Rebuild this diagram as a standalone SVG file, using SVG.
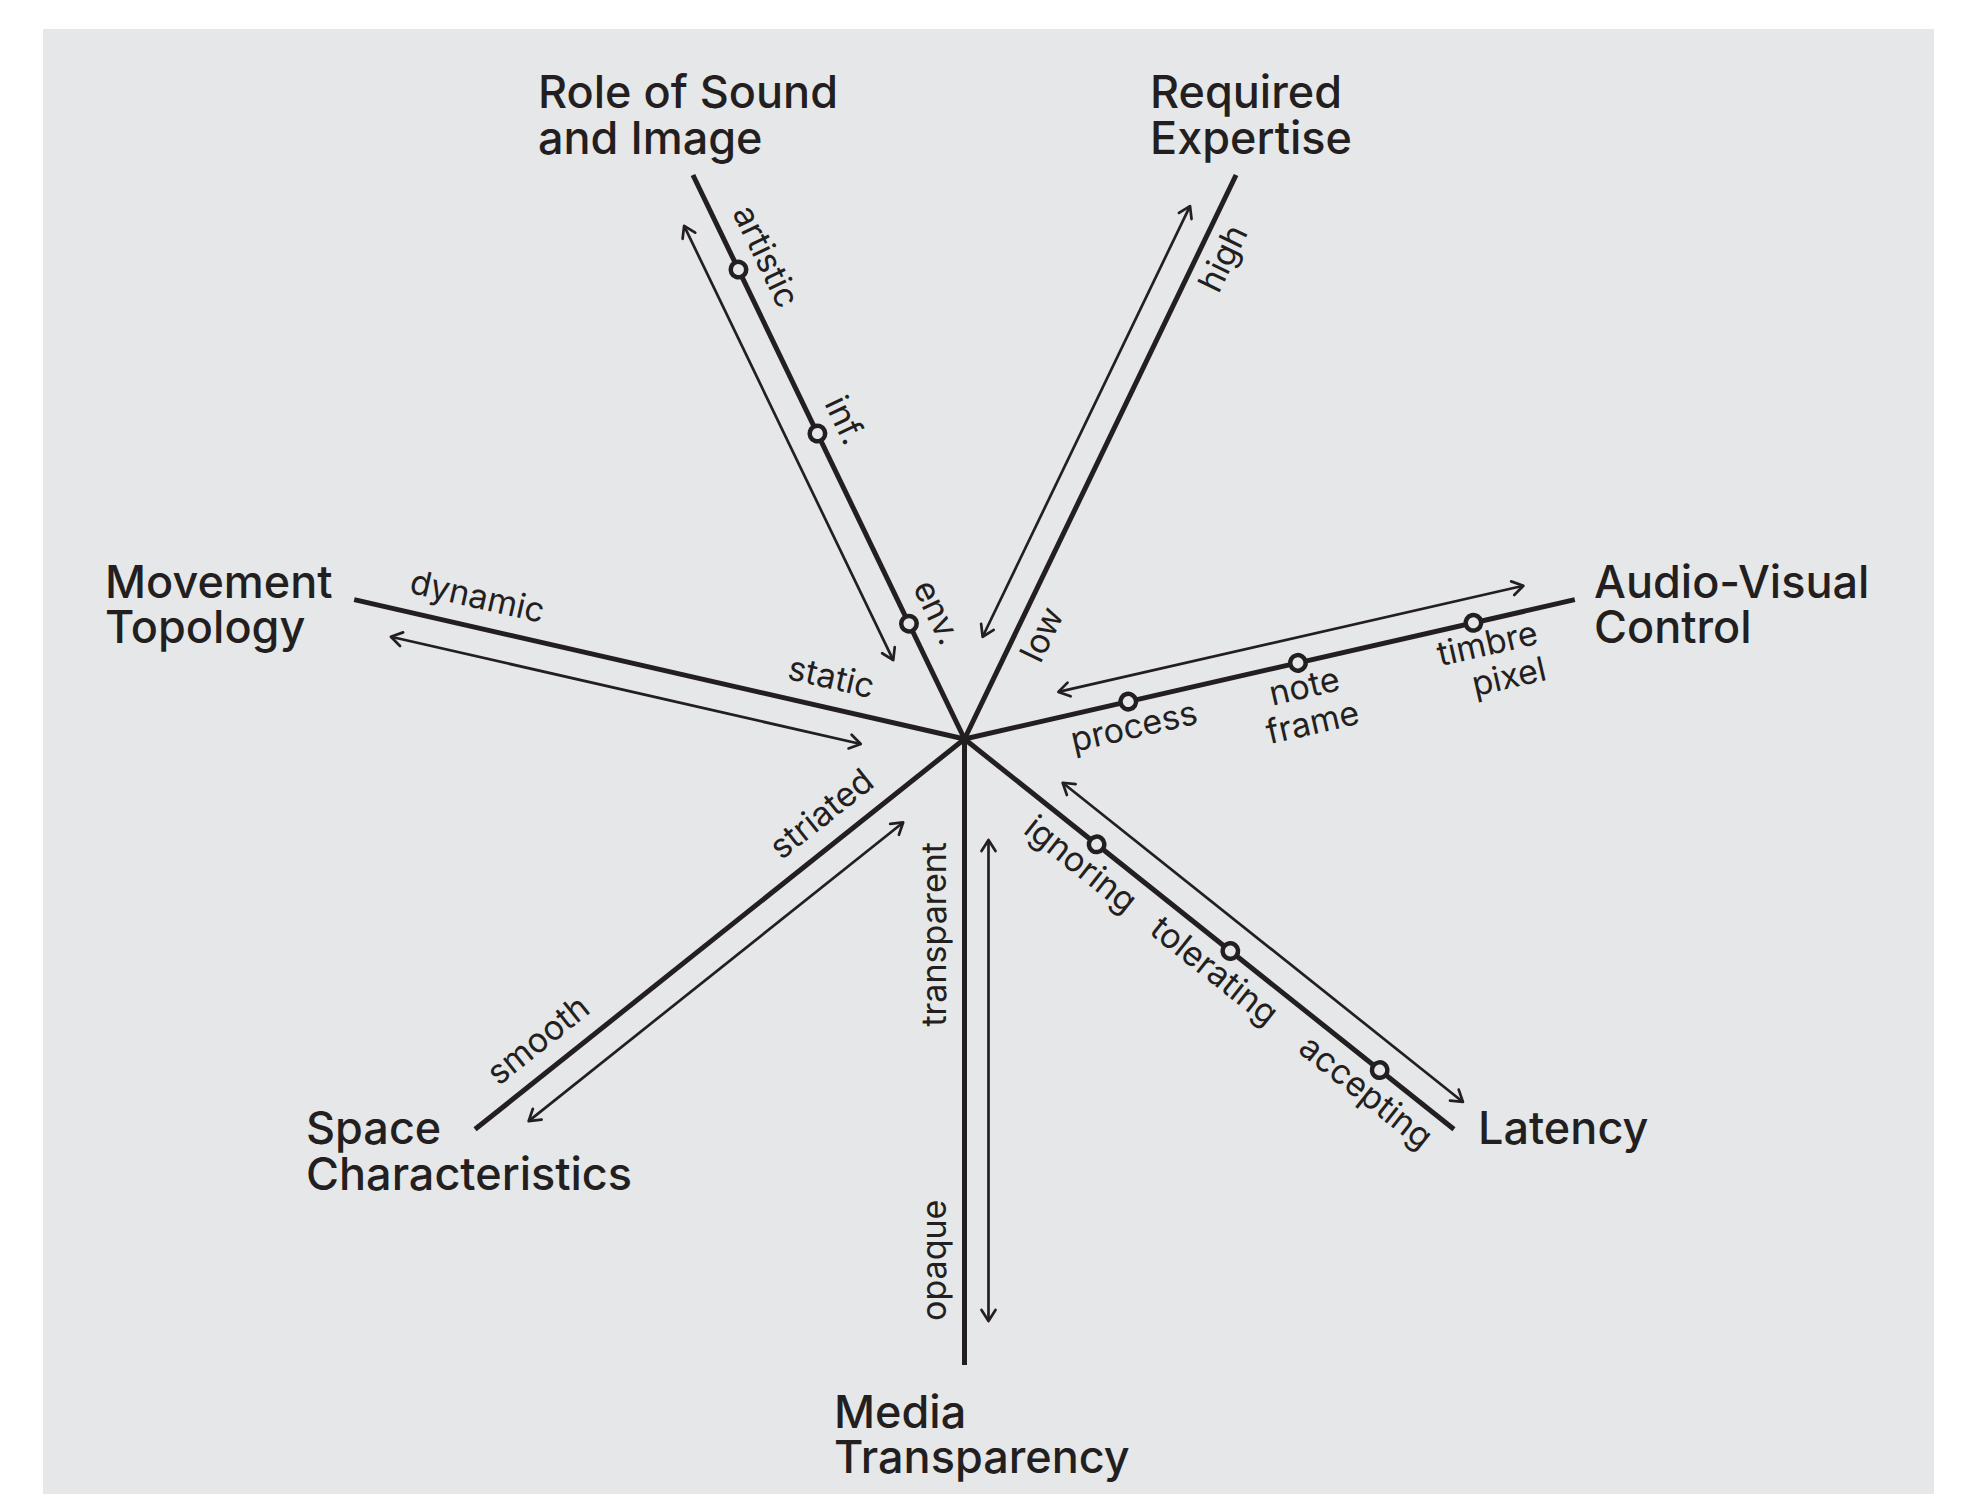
<svg xmlns="http://www.w3.org/2000/svg" width="1963" height="1494" viewBox="0 0 1963 1494">
  <style>
    .title { font-family: Inter, "Liberation Sans", sans-serif; font-size: 45px; font-weight: 500; fill: #231f20; }
    .lbl { font-family: Inter, "Liberation Sans", sans-serif; font-size: 34px; fill: #231f20; }
    .axis { stroke: #231f20; stroke-width: 5; stroke-linecap: butt; fill: none; }
    .stop { fill: #e6e7e8; stroke: #231f20; stroke-width: 4.5; }
    .arrow { stroke: #231f20; stroke-width: 2.7; fill: none; marker-start: url(#head); marker-end: url(#head); }
  </style>
  <defs>
    <marker id="head" viewBox="-14 -10 16 20" refX="0" refY="0" markerWidth="16" markerHeight="20" orient="auto-start-reverse" markerUnits="userSpaceOnUse">
      <path d="M-11,-7 L0,0 L-11,7" fill="none" stroke="#231f20" stroke-width="2.7" stroke-linecap="round" stroke-linejoin="round"/>
    </marker>
  </defs>

  <rect x="0" y="0" width="1963" height="1494" fill="#ffffff"/>
  <rect x="43" y="29" width="1891" height="1465" fill="#e6e7e8"/>

  <!-- Role of Sound and Image -->
  <g id="role-of-sound-and-image">
    <text class="title" x="538" y="108">Role of Sound</text>
    <text class="title" x="538" y="154">and Image</text>
    <g transform="translate(964.5 739) rotate(-115.71)">
      <line class="axis" x1="0" y1="0" x2="626" y2="0"/>
      <circle class="stop" cx="128" cy="0" r="7.75"/>
      <circle class="stop" cx="339" cy="0" r="7.75"/>
      <circle class="stop" cx="521" cy="0" r="7.75"/>
      <text class="lbl" text-anchor="middle" transform="translate(521 19) rotate(180)">artistic</text>
      <text class="lbl" text-anchor="middle" transform="translate(339 19) rotate(180)">inf.</text>
      <text class="lbl" text-anchor="middle" transform="translate(126 19) rotate(180)">env.</text>
    </g>
  </g>

  <!-- Required Expertise -->
  <g id="required-expertise">
    <text class="title" x="1150" y="108">Required</text>
    <text class="title" x="1150" y="154">Expertise</text>
    <g transform="translate(964.5 739) rotate(-64.29)">
      <line class="axis" x1="0" y1="0" x2="626" y2="0"/>
      <text class="lbl" text-anchor="end" x="580" y="36">high</text>
      <text class="lbl" text-anchor="start" x="100" y="36">low</text>
    </g>
  </g>

  <!-- Audio-Visual Control -->
  <g id="audio-visual-control">
    <text class="title" x="1594" y="598">Audio-Visual</text>
    <text class="title" x="1594" y="643">Control</text>
    <g transform="translate(964.5 739) rotate(-12.86)">
      <line class="axis" x1="0" y1="0" x2="626" y2="0"/>
      <circle class="stop" cx="168" cy="0" r="7.75"/>
      <circle class="stop" cx="342" cy="0" r="7.75"/>
      <circle class="stop" cx="522" cy="0" r="7.75"/>
      <text class="lbl" text-anchor="middle" x="168" y="37">process</text>
      <text class="lbl" text-anchor="middle" x="343" y="36">note</text>
      <text class="lbl" text-anchor="middle" x="343" y="73">frame</text>
      <text class="lbl" text-anchor="end" x="582" y="35">timbre</text>
      <text class="lbl" text-anchor="end" x="582" y="72">pixel</text>
    </g>
  </g>

  <!-- Latency -->
  <g id="latency">
    <text class="title" x="1478" y="1144">Latency</text>
    <g transform="translate(964.5 739) rotate(38.57)">
      <line class="axis" x1="0" y1="0" x2="626" y2="0"/>
      <circle class="stop" cx="169" cy="0" r="7.75"/>
      <circle class="stop" cx="340" cy="0" r="7.75"/>
      <circle class="stop" cx="531" cy="0" r="7.75"/>
      <text class="lbl" text-anchor="middle" x="169" y="37">ignoring</text>
      <text class="lbl" text-anchor="middle" x="340" y="37">tolerating</text>
      <text class="lbl" text-anchor="middle" x="534" y="37">accepting</text>
    </g>
  </g>

  <!-- Media Transparency -->
  <g id="media-transparency">
    <text class="title" x="834" y="1428">Media</text>
    <text class="title" x="834" y="1473">Transparency</text>
    <g transform="translate(964.5 739) rotate(90)">
      <line class="axis" x1="0" y1="0" x2="626" y2="0"/>
      <text class="lbl" text-anchor="start" transform="translate(582 19) rotate(180)">opaque</text>
      <text class="lbl" text-anchor="end" transform="translate(103 19) rotate(180)">transparent</text>
    </g>
  </g>

  <!-- Space Characteristics -->
  <g id="space-characteristics">
    <text class="title" x="306" y="1144">Space</text>
    <text class="title" x="306" y="1190">Characteristics</text>
    <g transform="translate(964.5 739) rotate(141.43)">
      <line class="axis" x1="0" y1="0" x2="626" y2="0"/>
      <text class="lbl" text-anchor="start" transform="translate(581 19) rotate(180)">smooth</text>
      <text class="lbl" text-anchor="end" transform="translate(98 19) rotate(180)">striated</text>
    </g>
  </g>

  <!-- Movement Topology -->
  <g id="movement-topology">
    <text class="title" x="105" y="598">Movement</text>
    <text class="title" x="105" y="643">Topology</text>
    <g transform="translate(964.5 739) rotate(-167.14)">
      <line class="axis" x1="0" y1="0" x2="626" y2="0"/>
      <text class="lbl" text-anchor="start" transform="translate(575 19) rotate(180)">dynamic</text>
      <text class="lbl" text-anchor="end" transform="translate(100 19) rotate(180)">static</text>
    </g>
  </g>

  <!-- double-headed arrows running beside each spoke -->
  <g id="connectors">
    <line class="arrow" transform="translate(964.5 739) rotate(-115.71)" x1="102" y1="-30" x2="584" y2="-30"/>
    <line class="arrow" transform="translate(964.5 739) rotate(-64.29)" x1="100" y1="-28" x2="578" y2="-28"/>
    <line class="arrow" transform="translate(964.5 739) rotate(-12.86)" x1="102" y1="-25" x2="579" y2="-25"/>
    <line class="arrow" transform="translate(964.5 739) rotate(38.57)" x1="104" y1="-27" x2="616" y2="-27"/>
    <line class="arrow" transform="translate(964.5 739) rotate(90)" x1="101" y1="-24" x2="582" y2="-24"/>
    <line class="arrow" transform="translate(964.5 739) rotate(141.43)" x1="100" y1="-27" x2="579" y2="-27"/>
    <line class="arrow" transform="translate(964.5 739) rotate(-167.14)" x1="100" y1="-28" x2="582" y2="-28"/>
  </g>
</svg>
